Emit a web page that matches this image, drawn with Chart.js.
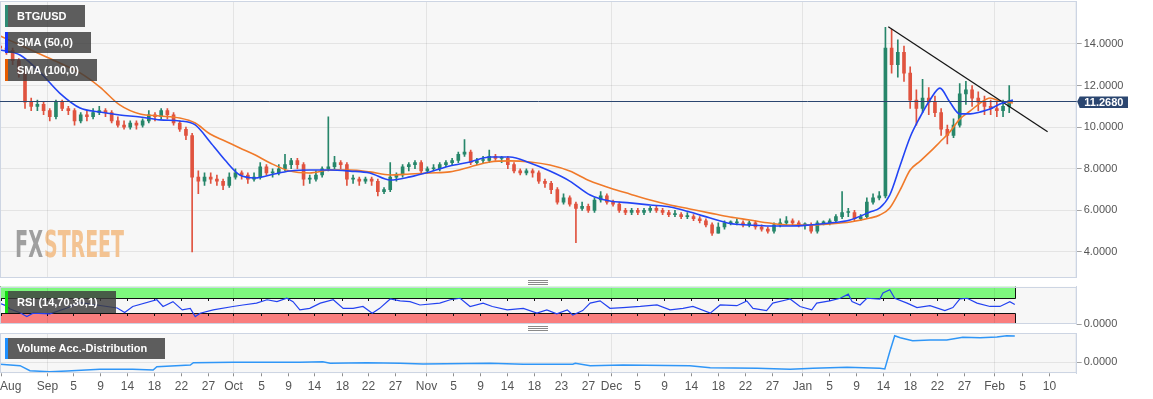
<!DOCTYPE html>
<html>
<head>
<meta charset="utf-8">
<script src="https://cdn.jsdelivr.net/npm/chart.js@4.4.1/dist/chart.umd.min.js"></script>
<style>
  html, body { margin: 0; padding: 0; background: #fff; }
  #wrap { position: relative; width: 1153px; height: 399px; overflow: hidden; font-family: "Liberation Sans", Arial, sans-serif; }
  .pane { position: absolute; left: 0; width: 1153px; }
  .tag { position: absolute; left: 5px; box-sizing: border-box; background: rgba(58,58,58,0.82); color: #fff;
         font: bold 11px "Liberation Sans", Arial, sans-serif; padding: 0 18px 0 9px; border-left: 3px solid #000; white-space: nowrap; }
  .grip { position: absolute; left: 528px; width: 20px; height: 3px; border-top: 1px solid #8a8a8a; border-bottom: 1px solid #8a8a8a; }
  .grip::after { content: ''; position: absolute; left: 0; right: 0; top: 1px; border-top: 1px solid #8a8a8a; }
</style>
</head>
<body>
<div id="wrap">
  <div class="pane" style="top:0;height:280px"><canvas id="priceChart"></canvas></div>
  <div class="pane" style="top:280px;height:50px"><canvas id="rsiChart"></canvas></div>
  <div class="pane" style="top:330px;height:69px"><canvas id="volChart"></canvas></div>

  <div class="grip" style="top:280px"></div>
  <div class="grip" style="top:326px"></div>

  <div class="tag" style="top:5px;height:22px;line-height:22px;border-left-color:#2e8b74">BTG/USD</div>
  <div class="tag" style="top:32px;height:21px;line-height:21px;border-left-color:#1432ff">SMA (50,0)</div>
  <div class="tag" style="top:59px;height:22px;line-height:22px;border-left-color:#e65c00">SMA (100,0)</div>
  <div class="tag" style="top:291px;height:22px;line-height:22px;border-left-color:#11dd11">RSI (14,70,30,1)</div>
  <div class="tag" style="top:338px;height:21px;line-height:21px;border-left-color:#1e90ff">Volume Acc.-Distribution</div>
</div>

<script>
// day 0 = 1 Sep; candle i covers day firstDay + i
const firstDay = -8;
const opens = [
  13.9,13.8,13.7,13.2,12.6,11.2,11.0,11.1,10.8,10.5,
  11.2,10.9,10.8,10.3,10.6,10.5,10.7,10.8,10.7,10.3,
  10.1,10.0,10.2,10.1,10.3,10.6,10.5,10.8,10.6,10.2,
  9.9,9.6,7.6,7.4,7.6,7.5,7.4,7.2,7.6,7.8,
  7.7,7.5,7.6,8.1,7.8,7.8,8.0,8.2,8.4,8.2,
  7.5,7.5,7.7,8.0,8.1,8.3,8.2,7.5,7.5,7.4,
  7.5,7.4,6.9,7.0,7.6,7.7,8.1,8.2,8.3,7.9,
  8.0,8.0,8.2,8.3,8.4,8.7,8.8,8.3,8.4,8.4,
  8.6,8.5,8.5,8.2,7.9,7.8,7.9,7.8,7.4,7.3,
  7.0,6.4,6.6,6.3,6.1,6.2,6.0,6.5,6.7,6.4,
  6.3,6.0,5.9,6.0,5.9,6.0,6.1,6.0,5.9,5.8,
  5.8,5.7,5.7,5.6,5.5,5.3,4.9,5.2,5.4,5.4,
  5.4,5.3,5.4,5.2,5.1,5.0,5.3,5.4,5.5,5.4,
  5.3,5.3,5.0,5.4,5.4,5.5,5.7,5.9,5.9,5.6,
  5.7,6.4,6.6,6.7,13.8,13.0,13.6,12.6,11.3,10.9,
  11.4,11.2,10.7,9.9,9.6,10.1,11.6,11.8,11.4,11.2,
  11.0,10.9,10.8,11.0
];
const highs = [
  14.1,14.0,13.8,13.3,12.8,11.4,11.3,11.2,10.9,11.3,
  11.3,11.0,10.9,10.7,10.8,10.9,11.0,10.9,10.8,10.5,
  10.3,10.3,10.3,10.4,10.8,10.7,10.9,10.9,10.7,10.3,
  10.0,9.7,7.9,7.8,7.8,7.7,7.5,7.8,8.0,7.9,
  7.8,7.8,8.3,8.2,8.0,8.2,8.7,8.5,8.5,8.3,
  7.7,7.9,8.1,10.5,8.6,8.4,8.3,7.7,7.6,7.6,
  7.6,7.5,7.1,8.3,7.8,8.2,8.3,8.4,8.4,8.1,
  8.2,8.3,8.4,8.5,8.8,9.4,8.9,8.5,8.6,8.9,
  8.7,8.6,8.6,8.3,8.0,8.0,8.0,7.9,7.5,7.4,
  7.1,6.8,6.7,6.4,6.4,6.3,6.6,6.9,6.8,6.5,
  6.4,6.1,6.1,6.1,6.1,6.2,6.2,6.1,6.0,6.0,
  5.9,5.9,5.8,5.7,5.6,5.4,5.4,5.5,5.5,5.6,
  5.5,5.5,5.5,5.3,5.2,5.4,5.6,5.7,5.6,5.5,
  5.4,5.4,5.5,5.5,5.6,5.8,6.9,6.1,6.0,5.8,
  6.6,6.8,6.9,14.8,14.7,14.2,13.9,12.9,11.8,12.3,
  11.9,11.5,10.9,10.1,10.4,12.1,12.2,12.0,11.7,11.5,
  11.3,11.2,11.3,12.0
];
const lows = [
  13.6,13.5,13.0,12.4,10.9,10.8,10.8,10.6,10.3,10.4,
  10.8,10.6,10.1,10.2,10.3,10.4,10.6,10.5,10.2,10.0,
  9.9,9.9,9.9,10.0,10.2,10.3,10.4,10.4,10.1,9.8,
  9.4,4.0,6.8,7.2,7.3,7.2,7.0,7.1,7.5,7.5,
  7.3,7.4,7.5,7.7,7.6,7.7,7.9,8.0,8.0,7.2,
  7.3,7.4,7.6,7.9,8.0,8.0,7.2,7.3,7.2,7.3,
  7.2,6.7,6.8,6.9,7.4,7.6,7.9,8.0,7.8,7.8,
  7.9,7.9,8.1,8.2,8.3,8.6,8.2,8.2,8.3,8.3,
  8.4,8.3,8.0,7.8,7.7,7.7,7.6,7.3,7.1,6.8,
  6.3,6.3,6.2,4.45,6.0,5.9,5.9,6.4,6.3,6.2,
  5.9,5.8,5.8,5.8,5.8,5.9,5.9,5.8,5.7,5.7,
  5.6,5.6,5.5,5.4,5.2,4.8,4.9,5.1,5.3,5.3,
  5.2,5.2,5.1,5.0,4.9,4.9,5.2,5.3,5.3,5.2,
  5.1,4.9,4.9,5.3,5.3,5.4,5.6,5.7,5.5,5.5,
  5.6,6.3,6.5,6.6,12.6,12.4,12.2,10.9,10.1,10.7,
  10.6,10.5,9.6,9.2,9.5,10.0,11.1,11.0,10.8,10.6,
  10.6,10.5,10.5,10.7
];
const closes = [
  13.8,13.7,13.2,12.6,11.2,11.0,11.1,10.8,10.5,11.2,
  10.9,10.8,10.3,10.6,10.5,10.7,10.8,10.7,10.3,10.1,
  10.0,10.2,10.1,10.3,10.6,10.5,10.8,10.6,10.2,9.9,
  9.6,7.6,7.4,7.6,7.5,7.4,7.2,7.6,7.8,7.7,
  7.5,7.6,8.1,7.8,7.8,8.0,8.2,8.4,8.2,7.5,
  7.5,7.7,8.0,8.1,8.3,8.2,7.5,7.5,7.4,7.5,
  7.4,6.9,7.0,7.6,7.7,8.1,8.2,8.3,7.9,8.0,
  8.0,8.2,8.3,8.4,8.7,8.8,8.3,8.4,8.4,8.6,
  8.5,8.5,8.2,7.9,7.8,7.9,7.8,7.4,7.3,7.0,
  6.4,6.6,6.3,6.1,6.2,6.0,6.5,6.7,6.4,6.3,
  6.0,5.9,6.0,5.9,6.0,6.1,6.0,5.9,5.8,5.8,
  5.7,5.7,5.6,5.5,5.3,4.9,5.2,5.4,5.4,5.4,
  5.3,5.4,5.2,5.1,5.0,5.3,5.4,5.5,5.4,5.3,
  5.3,5.0,5.4,5.4,5.5,5.7,5.9,5.9,5.6,5.7,
  6.4,6.6,6.7,13.8,13.0,13.6,12.6,11.3,10.9,11.4,
  11.2,10.7,9.9,9.6,10.1,11.6,11.8,11.4,11.2,11.0,
  10.9,10.8,11.0,11.268
];

// moving averages, read at these days
const smaDays = [-7.5,-4.3,-1.1,2.1,5.4,8.6,11.8,15.1,18.3,21.5,24.0,26.4,28.8,31.2,33.7,36.1,39.3,42.5,45.8,49.0,
  52.2,55.5,58.7,61.9,65.1,68.4,71.6,74.8,78.1,81.3,84.5,87.8,91.0,94.2,97.5,100.7,103.9,107.2,110.4,113.6,
  116.8,120.1,123.3,126.5,129.8,133.0,134.6,136.2,137.9,139.5,141.1,142.7,144.3,145.9,147.5,149.2,150.8,152.4,154.0,156.1];
const sma50 = [13.71,13.47,12.65,11.64,10.92,10.73,10.59,10.49,10.35,10.30,10.11,9.29,8.42,7.70,7.56,7.70,7.89,7.94,7.94,7.89,
  7.80,7.46,7.61,7.85,8.13,8.33,8.57,8.57,8.28,7.89,7.41,6.74,6.45,6.36,6.26,6.16,5.92,5.63,5.37,5.30,
  5.25,5.25,5.30,5.39,5.54,5.92,6.12,6.74,8.18,9.53,10.49,11.31,11.88,11.21,10.64,10.64,10.73,10.87,11.12,11.31];
const sma100 = [14.38,13.95,13.52,13.09,12.61,11.93,11.07,10.63,10.54,10.44,10.20,9.67,9.34,9.00,8.66,8.28,7.89,7.80,7.94,7.94,
  7.85,7.70,7.75,7.80,7.85,8.09,8.33,8.38,8.33,8.18,7.89,7.41,7.08,6.79,6.50,6.26,6.07,5.87,5.68,5.54,
  5.39,5.30,5.30,5.35,5.44,5.63,5.78,6.12,7.00,7.94,8.37,8.81,9.29,9.77,10.39,10.78,11.16,11.40,11.26,11.16];

const trendDays = [135.96, 161.7];
const trendPrices = [14.83, 9.78];

const rsiDays = [-7.5,-6.7,-5.9,-4.3,-3.2,-2.2,0.5,3.3,5.4,8.1,11.4,12.6,13.9,17.8,18.8,20.4,21.9,23.2,24.0,24.8,
  26.9,30.1,31.7,33.9,35.6,37.2,38.8,39.8,40.9,42.5,44.2,46.3,47.9,49.5,51.1,52.6,53.8,55.5,57.1,58.7,
  60.3,63.5,65.2,66.8,68.4,70.5,72.0,74.4,77.0,79.2,80.8,82.4,84.1,85.0,86.6,87.8,89.4,91.0,93.1,95.9,
  98.6,100.7,102.8,104.4,107.2,108.8,111.5,113.1,114.1,116.3,117.3,119.6,120.1,121.7,123.6,124.4,126.5,128.2,129.5,130.1,
  131.4,132.5,134.6,135.1,136.2,137.0,139.0,140.6,142.7,145.1,146.4,147.5,148.7,150.3,152.4,154.0,155.6,156.4];
const rsiValues = [55,50,40,30,20,29,27,43,57,51,43,31,47,65,47,60,38,42,20,29,
  38,47,51,56,65,60,69,60,38,42,56,65,42,42,47,29,42,67,62,60,
  51,56,65,69,47,56,47,38,42,29,38,27,38,24,36,56,62,42,44,47,
  51,38,42,47,29,51,49,62,42,36,56,65,67,47,38,56,62,69,80,60,
  51,69,67,83,92,69,56,44,49,36,44,67,69,56,47,47,60,52];

const volDays = [-7.5,-4.3,-2.7,0.5,3.3,8.6,13.9,17.2,17.8,23.2,23.7,30.1,40.9,44.6,45.8,51.7,57.1,60.8,71.6,77.0,
  85.0,85.4,87.8,93.1,103.9,107.2,114.8,120.1,123.8,129.3,134.6,135.4,136.2,137.0,137.9,139.9,142.7,145.4,148.0,150.8,
  153.5,155.1,156.4];
const volValues = [-2.3,-3.7,-8.7,-9.7,-9.0,-7.3,-7.3,-8.0,-4.7,-3.0,-0.7,-0.3,-0.3,0.3,-1.3,-0.7,-1.3,-2.0,-1.3,-2.3,
  -2.3,-1.3,-3.7,-3.0,-3.7,-5.7,-6.3,-7.3,-6.3,-5.3,-6.3,-7.0,10.3,26.3,24.3,21.3,22.0,22.0,24.7,24.3,
  25.0,26.3,26.0];

const tickDays = [-7.38,0,4.25,8.61,12.97,17.33,21.70,26.06,30.10,34.62,38.98,43.18,47.71,51.91,56.27,
  61.28,65.59,69.95,74.31,78.72,83.09,87.45,91.11,95.36,99.72,104.09,108.45,112.81,117.17,
  122.07,126.43,130.79,135.15,139.47,143.88,148.19,152.99,157.56,161.97];
const tickLabels = ['Aug','Sep','5','9','14','18','22','27','Oct','5','9','14','18','22','27',
  'Nov','5','9','14','18','23','27','Dec','5','9','14','18','22','27',
  'Jan','5','9','14','18','22','27','Feb','5','10'];

const priceTicks = [4, 6, 8, 10, 12, 14];

const UP = '#27866a', DOWN = '#e0533f';
const FONT = '"Liberation Sans", Arial, sans-serif';
const X_MIN = -7.54, X_MAX = 166.4;
const AXIS_W = 76.3;

function panelPlugin(extra) {
  return {
    id: 'panel',
    beforeDraw(chart) {
      const { ctx, chartArea: a } = chart;
      ctx.save();
      ctx.fillStyle = '#f7f7f7';
      ctx.fillRect(a.left, a.top, a.right - a.left, a.bottom - a.top);
      ctx.restore();
    },
    beforeDatasetsDraw(chart) {
      const { ctx, chartArea: a } = chart;
      const xs = chart.scales.x;
      if (extra.before) extra.before(chart);
      ctx.save();
      ctx.strokeStyle = 'rgba(0,0,0,0.075)';
      ctx.lineWidth = 1;
      tickLabels.forEach((lab, i) => {
        if (i === 0 || !/^[A-Z]/.test(lab)) return;
        const x = Math.round(xs.getPixelForValue(tickDays[i])) + 0.5;
        ctx.beginPath(); ctx.moveTo(x, a.top); ctx.lineTo(x, a.bottom); ctx.stroke();
      });
      ctx.restore();
    },
    afterDraw(chart) {
      const { ctx, chartArea: a } = chart;
      ctx.save();
      ctx.strokeStyle = '#cdd5e3';
      ctx.lineWidth = 1;
      ctx.strokeRect(a.left + 0.5, Math.round(a.top) + 0.5, a.right - a.left - 1, Math.round(a.bottom - a.top) - 1);
      ctx.restore();
      if (extra.after) extra.after(chart);
    }
  };
}

function yAxis(min, max, values, onArea) {
  return {
    position: 'right', min, max,
    afterFit(s) { s.width = AXIS_W; s.paddingTop = 0; s.paddingBottom = 0; },
    afterBuildTicks(s) { s.ticks = values.map(v => ({ value: v })); },
    border: { display: true, color: '#cdd5e3' },
    grid: { color: '#e4e4e4', drawOnChartArea: onArea, tickLength: 5, tickColor: '#a3a3a3' },
    ticks: { color: '#555', padding: 2, font: { family: FONT, size: 11 }, callback: v => Number(v).toFixed(4) }
  };
}

function baseOptions(padTop, padBottom, y) {
  return {
    responsive: true,
    maintainAspectRatio: false,
    animation: false,
    events: [],
    layout: { padding: { left: 0, right: 0, top: padTop, bottom: padBottom } },
    plugins: { legend: { display: false }, tooltip: { enabled: false } },
    scales: {
      x: { type: 'linear', min: X_MIN, max: X_MAX, display: false, offset: false, grid: { offset: false } },
      y
    }
  };
}

const candleColors = closes.map((c, i) => c >= opens[i] ? UP : DOWN);
const candleX = closes.map((c, i) => firstDay + i + 0.5);

new Chart(document.getElementById('priceChart'), {
  type: 'bar',
  data: {
    datasets: [
      {
        label: 'wicks',
        data: lows.map((l, i) => ({ x: candleX[i], y: [l, highs[i]] })),
        backgroundColor: candleColors,
        barThickness: 1, grouped: false, order: 3
      },
      {
        label: 'BTG/USD',
        data: opens.map((o, i) => ({ x: candleX[i], y: [o, closes[i]] })),
        backgroundColor: candleColors,
        barThickness: 3, minBarLength: 1, grouped: false, order: 2
      },
      {
        type: 'line', label: 'SMA (100,0)',
        data: smaDays.map((d, i) => ({ x: d, y: sma100[i] })),
        borderColor: '#f07a2a', borderWidth: 1.6, pointRadius: 0, cubicInterpolationMode: 'monotone', order: 1
      },
      {
        type: 'line', label: 'SMA (50,0)',
        data: smaDays.map((d, i) => ({ x: d, y: sma50[i] })),
        borderColor: '#2244f5', borderWidth: 1.6, pointRadius: 0, cubicInterpolationMode: 'monotone', order: 0
      },
      {
        type: 'line', label: 'trend',
        data: trendDays.map((d, i) => ({ x: d, y: trendPrices[i] })),
        borderColor: '#151515', borderWidth: 1.3, pointRadius: 0, order: 0
      }
    ]
  },
  options: baseOptions(1, 2.3, yAxis(2.764, 16.067, priceTicks, true)),
  plugins: [panelPlugin({
    before(chart) {
      const ctx = chart.ctx;
      ctx.save();
      ctx.font = 'bold 38px "DejaVu Sans Condensed", "DejaVu Sans", sans-serif';
      ctx.textBaseline = 'alphabetic';
      ctx.textAlign = 'left';
      ctx.fillStyle = '#9f9f9f';
      ctx.fillText('FX', 15, 257, 28);
      ctx.fillStyle = '#f3c392';
      ctx.fillText('STREET', 44, 257, 80);
      ctx.restore();
    },
    after(chart) {
      const { ctx, chartArea: a } = chart;
      const last = closes[closes.length - 1];
      const y = Math.round(chart.scales.y.getPixelForValue(last)) + 0.5;
      ctx.save();
      ctx.strokeStyle = '#2b4670';
      ctx.lineWidth = 1;
      ctx.beginPath(); ctx.moveTo(a.left, y); ctx.lineTo(a.right, y); ctx.stroke();
      ctx.fillStyle = '#2b4670';
      ctx.beginPath();
      ctx.moveTo(a.right + 0.5, y);
      ctx.lineTo(a.right + 3, y - 5);
      ctx.lineTo(1128, y - 5);
      ctx.lineTo(1128, y + 6.5);
      ctx.lineTo(a.right + 3, y + 6.5);
      ctx.closePath(); ctx.fill();
      ctx.fillStyle = '#fff';
      ctx.font = 'bold 11px ' + FONT;
      ctx.textAlign = 'center';
      ctx.textBaseline = 'middle';
      ctx.fillText(last.toFixed(4), (a.right + 3 + 1128) / 2, y + 1);
      ctx.restore();
    }
  })]
});

new Chart(document.getElementById('rsiChart'), {
  type: 'line',
  data: {
    datasets: [{
      label: 'RSI (14,70,30,1)',
      data: rsiDays.map((d, i) => ({ x: d, y: rsiValues[i] })),
      borderColor: '#2342f0', borderWidth: 1.2, pointRadius: 0, tension: 0
    }]
  },
  options: baseOptions(6.7, 6, yAxis(0, 100, [0], false)),
  plugins: [panelPlugin({
    before(chart) {
      const { ctx, chartArea: a } = chart;
      const xs = chart.scales.x, ys = chart.scales.y;
      const xEnd = Math.round(xs.getPixelForValue(rsiDays[rsiDays.length - 1])) + 0.5;
      const y100 = ys.getPixelForValue(100), y70 = Math.round(ys.getPixelForValue(70)) + 0.5;
      const y30 = Math.round(ys.getPixelForValue(30)) + 0.5, y0 = ys.getPixelForValue(0);
      ctx.save();
      ctx.fillStyle = '#7ef87e';
      ctx.fillRect(a.left, y100, xEnd - a.left, y70 - y100);
      ctx.fillStyle = '#f97e7e';
      ctx.fillRect(a.left, y30, xEnd - a.left, y0 - y30);
      ctx.strokeStyle = '#111';
      ctx.lineWidth = 1;
      ctx.beginPath();
      ctx.moveTo(a.left, y70); ctx.lineTo(xEnd, y70);
      ctx.moveTo(a.left, y30); ctx.lineTo(xEnd, y30);
      ctx.moveTo(xEnd, y100); ctx.lineTo(xEnd, y70);
      ctx.moveTo(xEnd, y30); ctx.lineTo(xEnd, y0);
      ctx.moveTo(a.left + 0.5, y100); ctx.lineTo(a.left + 0.5, y70);
      ctx.moveTo(a.left + 0.5, y30); ctx.lineTo(a.left + 0.5, y0);
      ctx.stroke();
      ctx.fillStyle = '#111';
      tickDays.forEach(d => {
        const x = Math.round(xs.getPixelForValue(d));
        if (x <= a.left || x >= xEnd) return;
        ctx.fillRect(x, y70, 1, 2.5);
        ctx.fillRect(x, y30, 1, 2.5);
      });
      ctx.restore();
    }
  })]
});

new Chart(document.getElementById('volChart'), {
  type: 'line',
  data: {
    datasets: [{
      label: 'Volume Acc.-Distribution',
      data: volDays.map((d, i) => ({ x: d, y: volValues[i] })),
      borderColor: '#2f96f7', borderWidth: 1.5, pointRadius: 0, tension: 0
    }]
  },
  options: baseOptions(3.3, 25.7, yAxis(-11.3, 28.7, [0], true)),
  plugins: [panelPlugin({
    after(chart) {
      const { ctx, chartArea: a } = chart;
      const xs = chart.scales.x;
      ctx.save();
      ctx.strokeStyle = '#8e8e8e';
      ctx.fillStyle = '#555';
      ctx.lineWidth = 1;
      ctx.font = '12px ' + FONT;
      ctx.textBaseline = 'middle';
      tickDays.forEach((d, i) => {
        const x = Math.round(xs.getPixelForValue(d)) + 0.5;
        ctx.beginPath(); ctx.moveTo(x, a.bottom); ctx.lineTo(x, a.bottom + 3); ctx.stroke();
        ctx.textAlign = i === 0 ? 'left' : 'center';
        ctx.fillText(tickLabels[i], i === 0 ? 0 : x, a.bottom + 13);
      });
      ctx.restore();
    }
  })]
});
</script>
</body>
</html>
